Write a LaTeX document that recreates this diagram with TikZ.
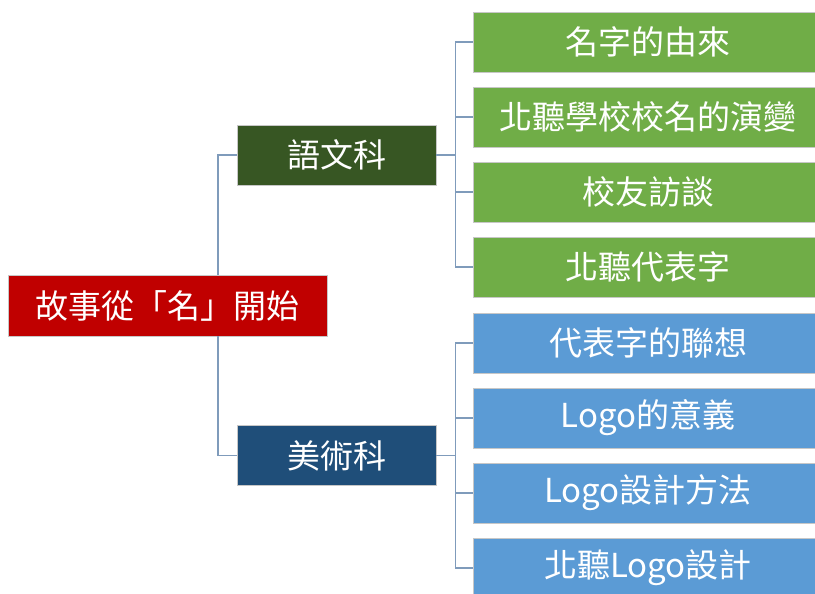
\documentclass[tikz,border=0pt]{standalone}
\usepackage{fontspec}
\setmainfont{Noto Sans CJK TC}
\definecolor{rootred}{HTML}{C00000}
\definecolor{langgreen}{HTML}{375623}
\definecolor{leafgreen}{HTML}{70AD47}
\definecolor{artblue}{HTML}{1F4E79}
\definecolor{leafblue}{HTML}{5B9BD5}
\definecolor{linkline}{HTML}{7F9BBB}
\tikzset{
  box/.style={draw=black!22, line width=0.8pt, text=white, font=\fontsize{33}{37}\selectfont,
    inner sep=0pt, minimum height=60pt},
  rootbox/.style={box, fill=rootred, minimum width=319pt, minimum height=61pt},
  subbox/.style={box, minimum width=199pt},
  leafbox/.style={box, minimum width=350pt},
  link/.style={draw=linkline, line width=1.3pt}
}
\begin{document}
\begin{tikzpicture}[x=1pt,y=-1pt]
      \clip (0,0) rectangle (815,594);
      \draw
        (167.5,305.5) node[rootbox] (root){故事從「名」開始}
        (336.5,155) node[subbox, fill=langgreen] (lang){語文科}
        (336.5,455.5) node[subbox, fill=artblue] (art){美術科};
      \draw
        (648,42) node[leafbox, fill=leafgreen] (g1){名字的由來}
        (648,117) node[leafbox, fill=leafgreen] (g2){北聽學校校名的演變}
        (648,192) node[leafbox, fill=leafgreen] (g3){校友訪談}
        (648,267) node[leafbox, fill=leafgreen] (g4){北聽代表字};
      \draw
        (648,343) node[leafbox, fill=leafblue] (b1){代表字的聯想}
        (648,418) node[leafbox, fill=leafblue] (b2){Logo的意義}
        (648,493) node[leafbox, fill=leafblue] (b3){Logo設計方法}
        (648,568) node[leafbox, fill=leafblue] (b4){北聽Logo設計};
      \coordinate (trunk) at (218,0);
      \begin{scope}[link]
        \draw (root.north -| trunk) |- (lang.west);
        \draw (root.south -| trunk) |- (art.west);
        \draw (lang.east) -- ++(19,0) |- (g1.west);
        \draw (lang.east) -- ++(19,0) |- (g2.west);
        \draw (lang.east) -- ++(19,0) |- (g3.west);
        \draw (lang.east) -- ++(19,0) |- (g4.west);
        \draw (art.east) -- ++(19,0) |- (b1.west);
        \draw (art.east) -- ++(19,0) |- (b2.west);
        \draw (art.east) -- ++(19,0) |- (b3.west);
        \draw (art.east) -- ++(19,0) |- (b4.west);
      \end{scope}
    \end{tikzpicture}
\end{document}
